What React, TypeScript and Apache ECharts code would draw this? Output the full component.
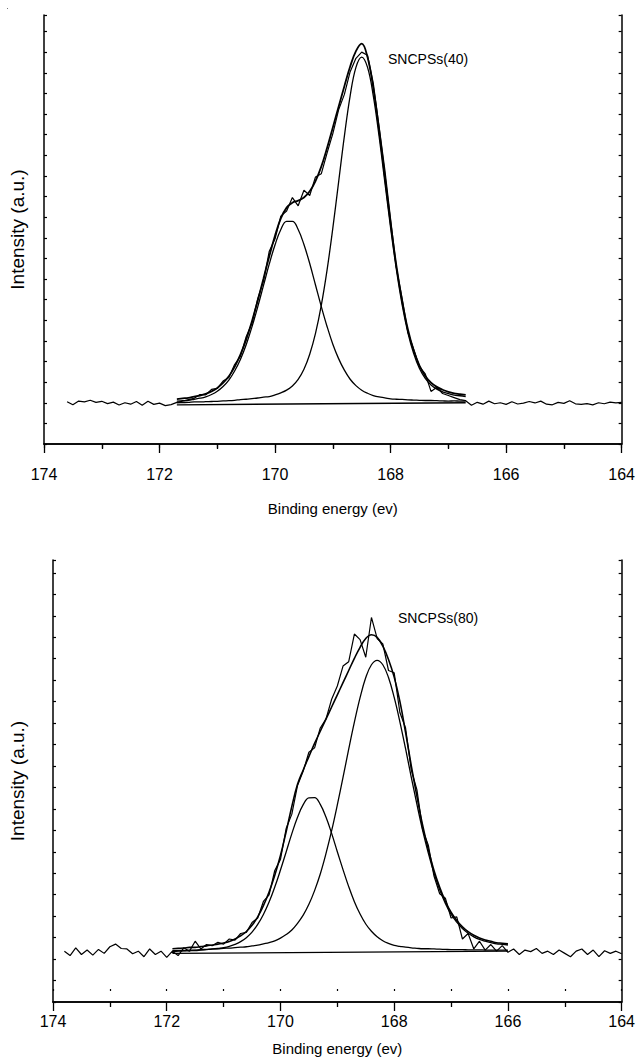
import React, { useEffect, useRef } from "react";
import * as echarts from "echarts";

// ---------- data (binding energy in eV, intensity in arbitrary units) ----------
const X_MIN = 164;
const X_MAX = 174;
const STEP = 0.1;

// Top panel: SNCPSs(40)
const topLabel = "SNCPSs(40)";
const topRawStart = 173.6;
const topRaw = [
  2.05, 1.9, 2.08, 2.04, 2.12, 2.02, 2.07, 1.96, 2.03, 1.89,
  2.0, 1.93, 2.06, 1.88, 2.07, 1.92, 1.98, 1.86, 1.91, 2.02,
  2.08, 2.15, 2.22, 2.4, 2.38, 2.65, 2.7, 3.05, 3.22, 3.85,
  4.25, 5.2, 5.85, 7.05, 7.9, 9.35, 9.95, 11.05, 11.3, 11.95,
  11.55, 12.3, 12.05, 12.95, 13.1, 14.1, 15.05, 16.2, 16.95, 18.05,
  18.7, 19.0, 18.85, 17.5, 15.4, 13.3, 10.9, 8.55, 7.05, 5.4,
  4.6, 3.75, 3.4, 2.55, 2.75, 2.45, 2.35, 2.25, 2.15, 2.1,
  1.88, 2.02, 1.93, 2.08, 1.95, 2.0, 1.92, 2.05, 1.94, 1.98,
  2.06, 1.99, 2.08, 1.93, 1.9, 2.02, 1.97, 2.1, 1.95, 1.92,
  1.96, 1.9, 2.0, 1.95, 2.03, 1.99, 2.02,
];
const topFitStart = 171.7;
const topEnvelope = [
  2.18, 2.21, 2.24, 2.3, 2.35, 2.43, 2.55, 2.72, 2.96, 3.28,
  3.74, 4.33, 5.06, 5.95, 6.95, 8.03, 9.1, 10.11, 10.94, 11.46,
  11.7, 11.8, 11.95, 12.25, 12.75, 13.45, 14.35, 15.35, 16.35, 17.35,
  18.3, 19.05, 19.41, 18.76, 17.27, 15.25, 12.98, 10.71, 8.65, 6.93,
  5.55, 4.53, 3.8, 3.3, 2.98, 2.77, 2.63, 2.53, 2.46, 2.42,
  2.38,
];
const topPeakHigh = [
  2.08, 2.1, 2.12, 2.17, 2.22, 2.29, 2.4, 2.56, 2.79, 3.1,
  3.54, 4.1, 4.81, 5.68, 6.65, 7.69, 8.73, 9.66, 10.4, 10.79,
  10.79, 10.4, 9.67, 8.75, 7.71, 6.67, 5.7, 4.84, 4.14, 3.58,
  3.14, 2.83, 2.61, 2.46, 2.35, 2.28, 2.24, 2.19, 2.17, 2.16,
  2.14, 2.13, 2.12, 2.11, 2.11, 2.1, 2.09, 2.08, 2.09, 2.08,
  2.08,
];
const topPeakLow = [
  2.0, 2.01, 2.02, 2.04, 2.04, 2.05, 2.06, 2.07, 2.09, 2.1,
  2.12, 2.15, 2.17, 2.2, 2.23, 2.27, 2.3, 2.38, 2.48, 2.61,
  2.81, 3.13, 3.62, 4.35, 5.36, 6.72, 8.43, 10.47, 12.7, 14.93,
  16.88, 18.26, 18.76, 18.27, 16.89, 14.94, 12.71, 10.49, 8.46, 6.75,
  5.39, 4.38, 3.66, 3.18, 2.86, 2.66, 2.53, 2.44, 2.37, 2.34,
  2.3,
];
const topBackground = [
  [171.7, 1.9],
  [166.7, 2.0],
];

// Bottom panel: SNCPSs(80)
const botLabel = "SNCPSs(80)";
const botRawStart = 173.8;
const botRaw = [
  // 173.8 - 172.0
  2.3, 2.1, 2.45, 2.15, 2.35, 2.12, 2.38, 2.2, 2.5, 2.62,
  2.42, 2.4, 2.18, 2.3, 2.05, 2.4, 2.15, 2.3, 2.02,
  // 171.9 - 166.0
  2.3, 2.1, 2.45, 2.3, 2.75, 2.4, 2.6, 2.55, 2.7, 2.62,
  2.85, 2.8, 3.1, 3.15, 3.6, 3.8, 4.55, 4.85, 5.95, 6.45,
  7.85, 8.5, 9.8, 10.45, 11.3, 11.5, 12.4, 12.8, 13.7, 14.3,
  15.2, 15.4, 16.65, 16.4, 15.6, 17.4, 16.45, 16.2, 15.0, 14.9,
  13.1, 12.4, 10.5, 9.6, 7.8, 7.1, 5.7, 4.9, 4.7, 3.8,
  3.85, 2.85, 3.1, 2.4, 2.75, 2.35, 2.6, 2.3, 2.55, 2.25,
  // 165.9 - 164.0
  2.4, 2.15, 2.35, 2.28, 2.42, 2.2, 2.3, 2.15, 2.35, 2.2,
  2.05, 2.3, 2.4, 2.15, 2.35, 2.05, 2.32, 2.2, 2.3, 2.18,
];
const botFitStart = 171.9;
const botEnvelope = [
  2.41, 2.43, 2.44, 2.47, 2.47, 2.51, 2.54, 2.58, 2.62, 2.67,
  2.74, 2.85, 2.99, 3.19, 3.47, 3.85, 4.36, 4.98, 5.74, 6.63,
  7.7, 8.85, 9.85, 10.5, 11.1, 11.7, 12.25, 12.8, 13.35, 13.9,
  14.45, 15.0, 15.55, 16.05, 16.45, 16.62, 16.5, 16.1, 15.5, 14.7,
  13.6, 12.2, 10.7, 9.3, 8.0, 6.9, 5.95, 5.19, 4.56, 4.06,
  3.69, 3.4, 3.18, 3.02, 2.9, 2.81, 2.75, 2.68, 2.66, 2.63,
];
const botPeakHigh = [
  2.29, 2.3, 2.31, 2.32, 2.33, 2.35, 2.37, 2.39, 2.42, 2.46,
  2.52, 2.61, 2.73, 2.91, 3.16, 3.51, 3.96, 4.52, 5.2, 5.97,
  6.79, 7.62, 8.36, 8.93, 9.24, 9.25, 8.94, 8.37, 7.63, 6.8,
  5.99, 5.22, 4.54, 3.98, 3.53, 3.2, 2.95, 2.77, 2.65, 2.56,
  2.52, 2.48, 2.45, 2.43, 2.41, 2.41, 2.4, 2.39, 2.38, 2.37,
  2.37, 2.37, 2.36, 2.36, 2.36, 2.35, 2.35, 2.35, 2.35, 2.35,
];
const botPeakLow = [
  2.32, 2.33, 2.33, 2.35, 2.35, 2.37, 2.38, 2.4, 2.41, 2.43,
  2.44, 2.46, 2.48, 2.5, 2.54, 2.57, 2.63, 2.69, 2.77, 2.89,
  3.05, 3.26, 3.56, 3.93, 4.42, 5.04, 5.79, 6.71, 7.75, 8.92,
  10.16, 11.44, 12.66, 13.77, 14.68, 15.26, 15.46, 15.26, 14.68, 13.78,
  12.68, 11.46, 10.18, 8.94, 7.77, 6.74, 5.83, 5.08, 4.46, 3.97,
  3.61, 3.32, 3.11, 2.95, 2.83, 2.75, 2.69, 2.63, 2.61, 2.58,
];
const botBackground = [
  [171.9, 2.2],
  [166.0, 2.3],
];

// ---------- helpers ----------
const pairs = (start: number, values: number[]) =>
  values.map((v, i) => [Math.round((start - i * STEP) * 100) / 100, v]);

const FONT = "Liberation Sans";

const lineSeries = (
  data: number[][],
  xAxisIndex: number,
  yAxisIndex: number,
  width: number,
  smooth: boolean | number
) => ({
  type: "line",
  data,
  xAxisIndex,
  yAxisIndex,
  symbol: "none",
  showSymbol: false,
  smooth,
  silent: true,
  lineStyle: { color: "#000", width },
  z: 3,
});

const mainXAxis = (gridIndex: number, labelMargin: number, nameGap: number) => ({
  type: "value",
  gridIndex,
  position: "bottom",
  min: X_MIN,
  max: X_MAX,
  interval: 2,
  inverse: true,
  axisLine: { show: true, lineStyle: { color: "#000", width: 1.5 } },
  axisTick: { show: true, inside: false, length: 9, lineStyle: { color: "#000", width: 1.3 } },
  minorTick: { show: true, splitNumber: 2, length: 5, lineStyle: { color: "#000", width: 1.3 } },
  axisLabel: { color: "#000", fontSize: 16, fontFamily: FONT, margin: labelMargin },
  splitLine: { show: false },
  name: "Binding energy (ev)",
  nameLocation: "middle",
  nameGap,
  nameTextStyle: { color: "#000", fontSize: 15, fontFamily: FONT },
});

const borderXAxis = (gridIndex: number, ticks: boolean, offset = 0, showLine = true, tickLen = 4) => ({
  type: "value",
  gridIndex,
  position: "top",
  offset,
  min: X_MIN,
  max: X_MAX,
  interval: 1,
  inverse: true,
  axisLine: { show: showLine, lineStyle: { color: "#000", width: 1.5 } },
  axisTick: { show: ticks, inside: true, length: tickLen, lineStyle: { color: "#000", width: 1.2 } },
  axisLabel: { show: false },
  splitLine: { show: false },
});

const tickYAxis = (gridIndex: number, position: string, max: number, name?: string, nameGap = 20) => ({
  type: "value",
  gridIndex,
  position,
  min: 0,
  max,
  interval: 1,
  axisLine: { show: true, lineStyle: { color: "#000", width: 1.5 } },
  axisTick: { show: true, inside: true, length: 3, lineStyle: { color: "#000", width: 1.2 } },
  axisLabel: { show: false },
  splitLine: { show: false },
  name: name || "",
  nameLocation: "middle",
  nameGap,
  nameTextStyle: { color: "#000", fontSize: 19, fontFamily: FONT },
});

export default function App() {
  const ref = useRef<HTMLDivElement>(null);

  useEffect(() => {
    if (!ref.current) return;
    const chart = echarts.init(ref.current, undefined, { renderer: "svg" });

    const option = {
      animation: false,
      backgroundColor: "#fff",
      grid: [
        { left: 43, top: 15, width: 583, height: 429 },
        { left: 52, top: 560, width: 575, height: 442 },
      ],
      xAxis: [
        mainXAxis(0, 22, 57),
        borderXAxis(0, true),
        mainXAxis(1, 11, 39),
        borderXAxis(1, false),
        borderXAxis(1, true, -13, false, 2),
      ],
      yAxis: [
        tickYAxis(0, "left", 20.8, "Intensity (a.u.)", 17),
        tickYAxis(0, "right", 20.8),
        tickYAxis(1, "left", 20.6, "Intensity (a.u.)", 26),
        tickYAxis(1, "right", 20.6),
        { type: "value", gridIndex: 1, show: false, min: 0, max: 20 },
      ],
      series: [
        lineSeries(pairs(topRawStart, topRaw), 0, 0, 1.2, false),
        lineSeries(topBackground, 0, 0, 1.3, false),
        lineSeries(pairs(topFitStart, topPeakHigh), 0, 0, 1.3, 0.4),
        lineSeries(pairs(topFitStart, topPeakLow), 0, 0, 1.3, 0.4),
        lineSeries(pairs(topFitStart, topEnvelope), 0, 0, 1.8, 0.4),
        lineSeries(pairs(botRawStart, botRaw), 2, 4, 1.2, false),
        lineSeries(botBackground, 2, 4, 1.3, false),
        lineSeries(pairs(botFitStart, botPeakHigh), 2, 4, 1.3, 0.4),
        lineSeries(pairs(botFitStart, botPeakLow), 2, 4, 1.3, 0.4),
        lineSeries(pairs(botFitStart, botEnvelope), 2, 4, 1.6, 0.4),
      ],
      graphic: [
        {
          type: "text",
          left: 388,
          top: 52,
          style: { text: topLabel, fontSize: 14, fontFamily: FONT, fill: "#000" },
        },
        {
          type: "text",
          left: 398,
          top: 611,
          style: { text: botLabel, fontSize: 14, fontFamily: FONT, fill: "#000" },
        },
        { type: "rect", shape: { x: 7, y: 8, width: 1, height: 1 }, style: { fill: "#777" } },
      ],
    };

    chart.setOption(option as any);
    return () => chart.dispose();
  }, []);

  return (
    <div
      ref={ref}
      style={{ position: "absolute", left: 0, top: 0, width: 638, height: 1064, background: "#fff" }}
    />
  );
}
